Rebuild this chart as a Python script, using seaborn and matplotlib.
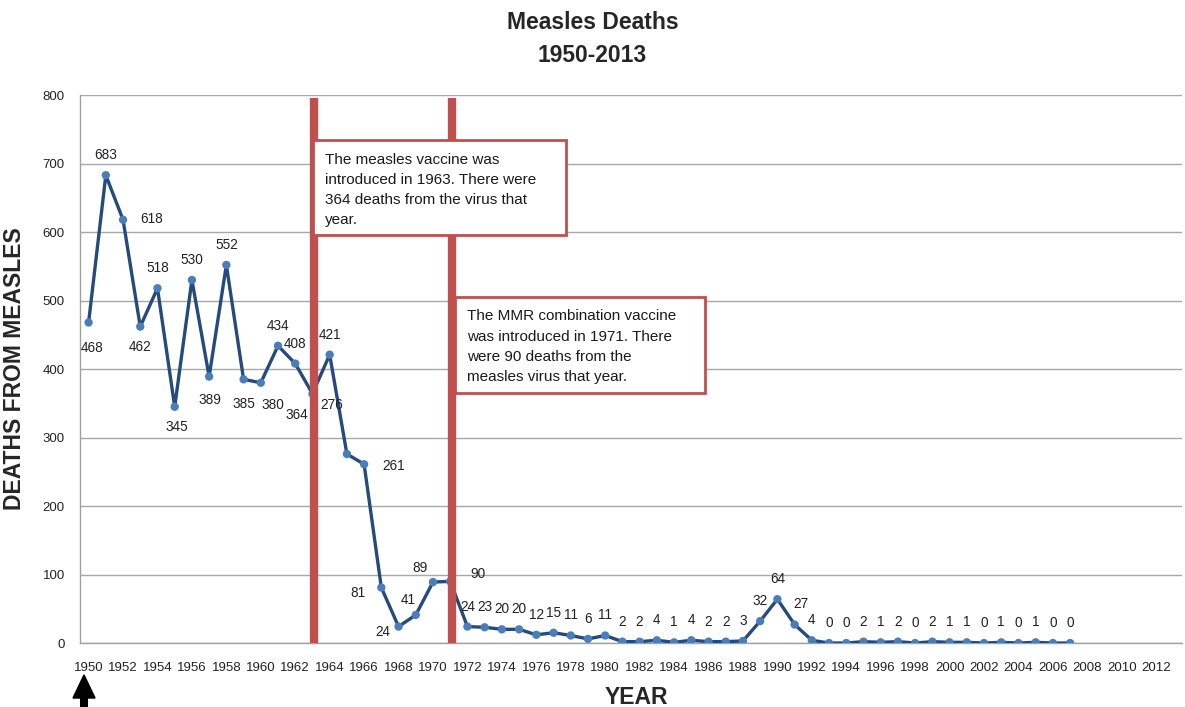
import numpy as np
import pandas as pd
import matplotlib
matplotlib.use("Agg")
import matplotlib.pyplot as plt
from matplotlib.patches import Rectangle
import seaborn as sns

# Measles deaths per year
years = list(range(1950, 2008))
deaths = [468, 683, 618, 462, 518, 345, 530, 389, 552, 385,
          380, 434, 408, 364, 421, 276, 261, 81, 24, 41,
          89, 90, 24, 23, 20, 20, 12, 15, 11, 6,
          11, 2, 2, 4, 1, 4, 2, 2, 3, 32,
          64, 27, 4, 0, 0, 2, 1, 2, 0, 2,
          1, 1, 0, 1, 0, 1, 0, 0]
vaccine_years = [1963, 1971]
note_texts = [
    "The measles vaccine was\nintroduced in 1963. There were\n364 deaths from the virus that\nyear.",
    "The MMR combination vaccine\nwas introduced in 1971. There\nwere 90 deaths from the\nmeasles virus that year.",
]
yticks = list(range(0, 900, 100))
xtick_years = list(range(1950, 2014, 2))

df = pd.DataFrame({"year": years, "deaths": deaths})

sns.set_style("white")
plt.rcParams["font.family"] = ["Liberation Sans", "DejaVu Sans"]

fig = plt.figure(figsize=(11.85, 7.07), dpi=100)
ax = fig.add_axes([0.0675, 0.0905, 0.93, 0.775])

line_col = "#254a7c"
mark_col = "#4a7ebb"
red = "#c0504d"

sns.lineplot(data=df, x="year", y="deaths", color=line_col, linewidth=2.4, ax=ax, zorder=3)
sns.scatterplot(data=df, x="year", y="deaths", color=mark_col, s=36, edgecolor="none", ax=ax, zorder=4)

# vaccine introduction lines
for yr in vaccine_years:
    ax.vlines(yr + 0.1, 0, 796, color=red, linewidth=6, zorder=5)

# note boxes (data coords: x0, y_top, width, height)
boxes = [(1963.05, 734, 14.65, 138), (1971.3, 505, 14.5, 140)]
for (x0, ytop, w, h), txt in zip(boxes, note_texts):
    ax.add_patch(Rectangle((x0, ytop - h), w, h, facecolor="white",
                           edgecolor=red, linewidth=2, zorder=6))
    ax.text(x0 + 0.65, ytop - 18, txt, fontsize=11, va="top", ha="left",
            color="#1a1a1a", linespacing=1.55, zorder=7)

# data labels (offsets in pixels; default above the point)
px = 0.72
offsets = {1950: (4, -26), 1952: (29, 1), 1953: (0, -20), 1955: (2, -20),
           1957: (1, -23), 1959: (0, -25), 1960: (12, -22), 1963: (-16, -21),
           1965: (-15, 49), 1966: (30, -2), 1967: (-23, -5), 1968: (-16, -5),
           1969: (-8, 15), 1970: (-13, 14), 1971: (28, 7), 1991: (6, 21)}
for yr, v in zip(years, deaths):
    dx, dy = offsets.get(yr, (0, 20))
    ax.annotate(str(v), (yr, v), xytext=(dx * px, dy * px), textcoords="offset points",
                ha="center", va="center", fontsize=9.8, color="#222222", zorder=8)

ax.set_xlim(1949.5, 2013.5)
ax.set_ylim(0, 800)
ax.set_yticks(yticks)
ax.set_yticklabels([str(t) for t in yticks], fontsize=9.5, color="#222222")
ax.set_xticks(xtick_years)
ax.set_xticklabels([str(t) for t in xtick_years], fontsize=9.5, color="#222222")
ax.set_xticks(np.arange(1949.5, 2014.5, 1), minor=True)
ax.tick_params(axis="x", which="major", length=0, pad=14)
ax.tick_params(axis="x", which="minor", length=5, color="#a0a0a0", width=1)
ax.tick_params(axis="y", length=5, color="#a0a0a0", width=1, pad=6)
ax.grid(axis="y", color="#a8a8a8", linewidth=1)
ax.set_axisbelow(True)
for s in ["top", "right"]:
    ax.spines[s].set_visible(False)
for s in ["left", "bottom"]:
    ax.spines[s].set_color("#a0a0a0")
    ax.spines[s].set_linewidth(1)

ax.set_xlabel("")
fig.text(0.537, 0.014, "YEAR", fontsize=16.5, fontweight="bold", ha="center", va="center")
ax.set_ylabel("DEATHS FROM MEASLES", fontsize=16.5, fontweight="bold", labelpad=12)
fig.suptitle("Measles Deaths\n1950-2013", fontsize=16.5, fontweight="bold",
             x=0.5, y=0.985, linespacing=1.6)

# arrow pointing at 1950
ax_x = 0.0709
fig.patches.append(plt.Polygon([[ax_x - 0.0093, 0.0127], [ax_x + 0.0093, 0.0127], [ax_x, 0.0453]],
                               closed=True, transform=fig.transFigure, color="black"))
fig.add_artist(plt.Line2D([ax_x, ax_x], [0.0, 0.015], transform=fig.transFigure,
                          color="black", linewidth=5.8, solid_capstyle="butt"))

fig.savefig("out.png", dpi=100)
